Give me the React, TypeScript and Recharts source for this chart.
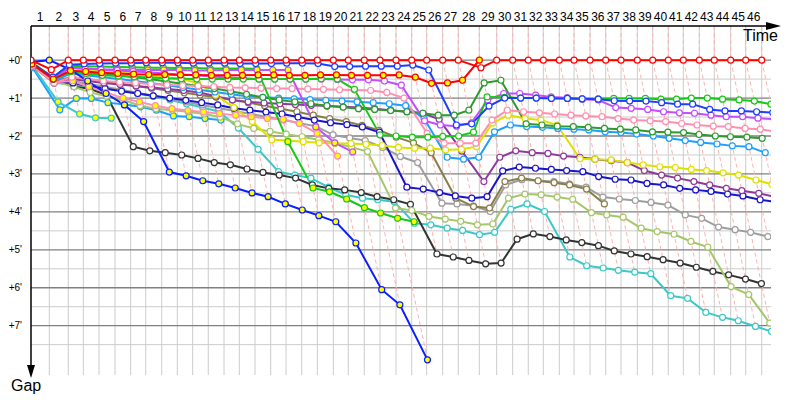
import React from 'react';
import { LineChart, Line, XAxis, YAxis, ReferenceLine } from 'recharts';

// leader's elapsed time (minutes) at each crossing of the line
const lapTimes = [
  0, 2.29, 4.66, 6.54, 8.5, 10.5, 12.46, 14.34, 16.34, 18.29, 20.21,
  22.16, 24.13, 26.04, 28.0, 29.96, 31.88, 33.84, 35.79, 37.79, 39.66,
  41.66, 43.63, 45.63, 47.59, 49.46, 51.46, 53.41, 56.04, 58.21, 60.21,
  62.16, 64.04, 66.04, 67.88, 69.88, 71.84, 73.75, 75.79, 77.71, 79.66,
  81.54, 83.54, 85.41, 87.46, 89.34, 91.34,
];

const lapNumbers = [
  1, 2, 3, 4, 5, 6, 7, 8, 9, 10, 11, 12, 13, 14, 15, 16, 17, 18, 19, 20, 21, 22, 23,
  24, 25, 26, 27, 28, 29, 30, 31, 32, 33, 34, 35, 36, 37, 38, 39, 40, 41, 42, 43, 44, 45, 46,
];

const gapTicks = [0, 1, 2, 3, 4, 5, 6, 7];
const gapGrid = [0, 0.5, 1, 1.5, 2, 2.5, 3, 3.5, 4, 4.5, 5, 5.5, 6, 6.5, 7, 7.5];

// gap to the leader (minutes) at each crossing, one list per car
const redCar = [
  0, 0.25, 0, 0, 0, 0, 0, 0, 0, 0, 0,
  0, 0, 0, 0, 0, 0, 0, 0, 0, 0,
  0, 0, 0, 0, 0, 0, 0, 0.2, 0, 0,
  0, 0, 0, 0, 0, 0, 0, 0, 0, 0,
  0, 0, 0, 0, 0, 0,
];
const redYellowCar = [
  0.1, 0.5, 0.28, 0.3, 0.33, 0.35, 0.37, 0.38, 0.38, 0.39, 0.39,
  0.4, 0.4, 0.4, 0.39, 0.39, 0.4, 0.4, 0.39, 0.39, 0.4,
  0.4, 0.4, 0.39, 0.45, 0.61, 0.6, 0.53, 0,
];
const blueCar = [
  0.08, 0.45, 0.12, 0.1, 0.09, 0.08, 0.08, 0.07, 0.07, 0.07, 0.08,
  0.08, 0.08, 0.09, 0.09, 0.09, 0.08, 0.08, 0.09, 0.17, 0.17,
  0.16, 0.16, 0.16, 0.13, 0.26, 1.71, 1.68, 1.21, 1.0, 1.0,
  1.0, 1.01, 1.01, 1.02, 1.03, 1.07, 1.08, 1.08, 1.12, 1.16,
  1.16, 1.3, 1.34, 1.34, 1.36, 1.38,
];
const greenCar = [
  0.1, 0.5, 0.3, 0.35, 0.4, 0.42, 0.44, 0.46, 0.48, 0.49, 0.5,
  0.5, 0.5, 0.5, 0.5, 0.5, 0.5, 0.5, 0.49, 0.5, 0.77,
  1.97, 2.0, 2.03, 2.03, 2.01, 2.0, 1.9, 0.97, 0.98, 1.0,
  1.0, 1.0, 1.01, 1.02, 1.02, 1.01, 1.01, 1.01, 1.03, 1.03,
  1.0, 1.0, 1.03, 1.05, 1.08, 1.16,
];
const violetCar = [
  0.1, 0.5, 0.2, 0.22, 0.25, 0.27, 0.3, 0.32, 0.35, 0.38, 0.4,
  0.43, 0.46, 0.48, 0.5, 0.5, 0.5, 0.5, 0.5, 0.51, 0.52,
  0.52, 0.55, 0.66, 1.6, 1.71, 1.74, 1.65, 1.05, 0.88, 0.88,
  0.92, 0.97, 0.99, 1.03, 1.05, 1.25, 1.27, 1.3, 1.36, 1.39,
  1.4, 1.45, 1.49, 1.49, 1.53, 1.56,
];
const pinkCar = [
  0.15, 0.6, 0.45, 0.5, 0.55, 0.58, 0.6, 0.63, 0.65, 0.67, 0.68,
  0.7, 0.72, 0.73, 0.74, 0.75, 0.75, 0.76, 0.77, 0.78, 0.79,
  0.8, 0.85, 1.0, 1.93, 2.19, 2.19, 2.19, 1.58, 1.32, 1.36,
  1.39, 1.42, 1.45, 1.47, 1.49, 1.54, 1.58, 1.6, 1.62, 1.67,
  1.71, 1.74, 1.75, 1.8, 1.82, 1.89,
];
const forestCar = [
  0.1, 0.5, 0.3, 0.33, 0.36, 0.4, 0.45, 0.5, 0.56, 0.62, 0.68,
  0.75, 0.82, 0.9, 0.98, 1.05, 1.1, 1.15, 1.2, 1.24, 1.28,
  1.3, 1.33, 1.36, 1.4, 1.45, 1.45, 1.32, 0.6, 0.53, 1.68,
  1.71, 1.74, 1.75, 1.77, 1.8, 1.82, 1.84, 1.89, 1.9, 1.91,
  1.96, 2.0, 2.02, 2.03, 2.06,
];
const skyCar = [
  0.12, 0.55, 0.35, 0.4, 0.45, 0.5, 0.55, 0.6, 0.66, 0.72, 0.78,
  0.84, 0.9, 0.95, 0.98, 1.0, 1.02, 1.04, 1.06, 1.08, 1.1,
  1.12, 1.15, 1.2, 1.54, 2.56, 2.61, 2.56, 1.89, 1.71, 1.75,
  1.77, 1.8, 1.82, 1.84, 1.89, 1.91, 1.95, 2.0, 2.06, 2.12,
  2.17, 2.21, 2.26, 2.28, 2.44,
];
const yellowCar = [
  0.1, 0.5, 0.2, 0.24, 0.28, 0.32, 0.36, 0.4, 0.45, 0.5, 0.6,
  0.92, 1.25, 1.62, 2.1, 2.12, 2.15, 2.18, 2.2, 2.2, 2.22,
  2.25, 2.3, 2.32, 2.32, 2.37, 2.35, 2.28, 1.66, 1.45, 1.54,
  1.58, 1.71, 2.6, 2.61, 2.63, 2.7, 2.76, 2.81, 2.83, 2.88,
  2.91, 2.97, 3.03, 3.16, 3.27,
];
const purpleCar = [
  0.15, 0.6, 0.5, 0.55, 0.6, 0.64, 0.68, 0.72, 0.76, 0.8, 0.85,
  0.95, 1.05, 1.1, 1.13, 1.15, 1.17, 1.19, 1.21, 1.23, 1.25,
  1.28, 1.32, 1.36, 1.4, 1.56, 2.4, 3.2, 2.56, 2.39, 2.44,
  2.46, 2.53, 2.56, 2.61, 2.65, 2.7, 2.91, 3.03, 3.11, 3.2,
  3.29, 3.38, 3.44, 3.51, 3.6,
];
const navyCar = [
  0.12, 0.55, 0.6, 0.68, 0.75, 0.82, 0.88, 0.94, 1.0, 1.06, 1.12,
  1.18, 1.27, 1.32, 1.37, 1.42, 1.5, 1.58, 1.65, 1.7, 1.76,
  1.9, 3.35, 3.4, 3.49, 3.58, 3.64, 3.6, 2.92, 2.82, 2.85,
  2.88, 2.91, 2.94, 3.07, 3.14, 3.16, 3.25, 3.29, 3.38, 3.42,
  3.46, 3.53, 3.58, 3.68, 3.74,
];
const oliveCar = [
  0.13, 0.55, 0.45, 0.5, 0.56, 0.62, 0.68, 0.74, 0.8, 0.86, 0.92,
  0.98, 1.05, 1.12, 1.2, 1.28, 1.36, 1.45, 1.54, 1.62, 1.72,
  1.85, 2.03, 2.18, 2.44, 3.64, 3.86, 3.9, 3.2, 3.11, 3.18,
  3.23, 3.29, 3.4, 3.79,
];
const greyCar = [
  0.15, 0.6, 0.55, 0.62, 0.7, 0.78, 0.86, 0.94, 1.02, 1.1, 1.18,
  1.26, 1.34, 1.42, 1.5, 1.58, 1.66, 1.74, 1.97, 2.05, 2.12,
  2.3, 2.54, 2.7, 3.77, 3.79, 3.84, 3.99, 3.29, 3.15, 3.18,
  3.2, 3.26, 3.35, 3.61, 3.66, 3.7, 3.75, 3.82, 4.08, 4.17,
  4.4, 4.47, 4.54, 4.65,
];
const limeCar = [
  0.12, 0.55, 0.7, 0.85, 0.95, 1.05, 1.2, 1.28, 1.32, 1.36, 1.42,
  1.5, 1.68, 1.8, 1.88, 1.95, 2.02, 2.1, 2.18, 2.3, 2.41,
  3.9, 3.96, 4.12, 4.19, 4.25, 4.34, 4.32, 3.64, 3.53, 3.55,
  3.61, 3.67, 4.02, 4.08, 4.14, 4.43, 4.52, 4.59, 4.78, 4.93,
  5.97, 6.18, 6.93,
];
const charcoalCar = [
  0.15, 0.5, 0.7, 0.75, 0.92, 2.28, 2.39, 2.44, 2.5, 2.59, 2.7,
  2.76, 2.87, 2.96, 3.03, 3.11, 3.29, 3.38, 3.42, 3.49, 3.6,
  3.68, 3.8, 5.11, 5.19, 5.28, 5.37, 5.35, 4.72, 4.58, 4.65,
  4.74, 4.81, 4.89, 5.03, 5.11, 5.18, 5.26, 5.35, 5.46, 5.57,
  5.66, 5.77, 5.89,
];
const cyanCar = [
  0.15, 0.6, 0.65, 0.7, 0.75, 0.8, 0.88, 0.95, 1.05, 1.15, 1.25,
  1.36, 1.79, 2.35, 2.94, 3.03, 3.11, 3.35, 3.55, 3.64, 3.68,
  3.73, 4.3, 4.34, 4.43, 4.49, 4.6, 4.54, 3.93, 3.79, 3.99,
  5.19, 5.42, 5.48, 5.54, 5.59, 5.63, 6.21, 6.28, 6.65, 6.78,
  6.87, 7.02, 7.15,
];
const blueYellowCar = [
  0.05, 0, 0.25, 0.55, 0.88, 1.18, 1.62, 2.95, 3.05, 3.18, 3.26,
  3.37, 3.5, 3.6, 3.79, 3.95, 4.1, 4.26, 4.82, 6.05, 6.45, 7.9,
];
const violetYellowCar = [
  0.08, 0.5, 0.2, 0.22, 0.24, 0.25, 0.26, 0.26, 0.26, 0.26, 0.27,
  0.27, 0.26, 0.26, 0.26, 0.26, 0.26, 1.76, 2.18, 2.42,
];
const pinkYellowCar = [
  0.13, 0.58, 0.55, 0.7, 0.85, 1.0, 1.1, 1.2, 1.28, 1.33, 1.37,
  1.41, 1.45, 1.49, 1.54, 1.56, 1.67, 1.93, 2.53,
];
const greenYellowCar = [
  0.05, 0.45, 0.15, 0.16, 0.17, 0.18, 0.19, 0.2, 0.2, 0.21, 0.21,
  0.22, 0.22, 0.22, 0.23, 2.15, 3.37, 3.47, 3.66, 3.89, 4.03, 4.17, 4.26,
];
const cyanYellowCar = [0.15, 1.1, 1.42, 1.52, 1.53];
const skyYellowCar = [0.2, 1.31, 1.01, 1.01, 1.12, 1.17, 1.23, 1.32, 1.47, 1.49, 1.54, 1.58];

const YELLOW = '#ffff00';
const WHITE = '#ffffff';

// drawn back to front
const cars = [
  { id: 'skyYellow', color: '#1e9fff', marker: YELLOW, gaps: skyYellowCar },
  { id: 'cyanYellow', color: '#3cc8c8', marker: YELLOW, gaps: cyanYellowCar },
  { id: 'cyan', color: '#3cc8c8', marker: WHITE, gaps: cyanCar },
  { id: 'charcoal', color: '#333333', marker: WHITE, gaps: charcoalCar },
  { id: 'lime', color: '#a6c66a', marker: WHITE, gaps: limeCar },
  { id: 'grey', color: '#9e9e9e', marker: WHITE, gaps: greyCar },
  { id: 'olive', color: '#8a7d46', marker: WHITE, gaps: oliveCar },
  { id: 'navy', color: '#1a14c8', marker: WHITE, gaps: navyCar },
  { id: 'purple', color: '#8e3a9a', marker: WHITE, gaps: purpleCar },
  { id: 'yellow', color: '#e0e000', marker: WHITE, gaps: yellowCar },
  { id: 'sky', color: '#1e9fff', marker: WHITE, gaps: skyCar },
  { id: 'forest', color: '#2e9a2e', marker: WHITE, gaps: forestCar },
  { id: 'pinkYellow', color: '#ff8fb0', marker: YELLOW, gaps: pinkYellowCar },
  { id: 'pink', color: '#ff8fb0', marker: WHITE, gaps: pinkCar },
  { id: 'greenYellow', color: '#18c818', marker: YELLOW, gaps: greenYellowCar },
  { id: 'violetYellow', color: '#c44dff', marker: YELLOW, gaps: violetYellowCar },
  { id: 'violet', color: '#c44dff', marker: WHITE, gaps: violetCar },
  { id: 'green', color: '#18c818', marker: WHITE, gaps: greenCar },
  { id: 'blueYellow', color: '#0a1eff', marker: YELLOW, gaps: blueYellowCar },
  { id: 'blue', color: '#1f3dff', marker: WHITE, gaps: blueCar },
  { id: 'redYellow', color: '#ff0000', marker: YELLOW, gaps: redYellowCar },
  { id: 'red', color: '#ff0000', marker: WHITE, gaps: redCar },
];

const GAP_TOP = -0.9;
const GAP_BOTTOM = 8.3;
const TIME_END = 92.5;

// a car crosses the line at the leader's time plus its gap
const carSeries = cars.map((c) => ({
  ...c,
  points: c.gaps.map((g, i) => ({ x: lapTimes[i] + g, g })),
}));

// dashed line joining every car's crossing of the same lap
const lapLines = lapTimes.map((t, i) => {
  const gs = cars.filter((c) => c.gaps.length > i).map((c) => c.gaps[i]).sort((a, b) => a - b);
  return [{ x: t, g: GAP_TOP }, ...gs.map((g) => ({ x: t + g, g }))];
});

const labelTicks = lapNumbers.map((n) => (lapTimes[n - 1] + lapTimes[n]) / 2);

const FONT = '"Liberation Sans", Arial, sans-serif';

const LapTick = (props: any) => {
  const { x, y, payload } = props;
  const i = labelTicks.findIndex((v) => Math.abs(v - payload.value) < 1e-6);
  return (
    <text x={x} y={y} textAnchor="middle" fontSize={12} fontFamily={FONT} fill="#000">
      {lapNumbers[i]}
    </text>
  );
};

const GapTick = (props: any) => {
  const { x, y, payload } = props;
  return (
    <text x={x} y={y + 3.5} textAnchor="end" fontSize={10} fontFamily={FONT} fill="#000">
      {`+${payload.value}'`}
    </text>
  );
};

export default function App() {
  return (
    <div style={{ position: 'absolute', left: 0, top: 0, width: 800, height: 400, background: '#fff' }}>
      <LineChart width={800} height={400} margin={{ top: 0, right: 29, bottom: 25, left: 0 }}>
        <XAxis
          type="number"
          dataKey="x"
          orientation="top"
          domain={[0, TIME_END]}
          allowDataOverflow
          ticks={labelTicks}
          interval={0}
          height={26}
          tickSize={0}
          tickMargin={5}
          tickLine={false}
          tick={<LapTick />}
          axisLine={{ stroke: '#000', strokeWidth: 1.5 }}
        />
        <YAxis
          type="number"
          dataKey="g"
          reversed
          domain={[GAP_TOP, GAP_BOTTOM]}
          allowDataOverflow
          ticks={gapTicks}
          interval={0}
          width={31}
          tickSize={0}
          tickMargin={9}
          tickLine={false}
          tick={<GapTick />}
          axisLine={{ stroke: '#000', strokeWidth: 1.5 }}
        />
        {lapTimes.slice(1).map((t) => (
          <ReferenceLine key={`v${t}`} x={t} stroke="#cccccc" strokeWidth={1} />
        ))}
        {gapGrid.map((g) => (
          <ReferenceLine
            key={`h${g}`}
            y={g}
            stroke={Number.isInteger(g) ? '#808080' : '#cccccc'}
            strokeWidth={Number.isInteger(g) ? 1.3 : 1}
          />
        ))}
        {lapLines.map((pts, i) => (
          <Line
            key={`lap${i}`}
            data={pts}
            dataKey="g"
            stroke="#ffb0b0"
            strokeWidth={1}
            strokeDasharray="4 3"
            dot={false}
            activeDot={false}
            isAnimationActive={false}
          />
        ))}
        {carSeries.map((c) => (
          <Line
            key={c.id}
            name={c.id}
            data={c.points}
            dataKey="g"
            stroke={c.color}
            strokeWidth={2}
            dot={{ r: 3, fill: c.marker, stroke: c.color, strokeWidth: 1.2 }}
            activeDot={false}
            isAnimationActive={false}
          />
        ))}
      </LineChart>
      <svg
        width={800}
        height={400}
        style={{ position: 'absolute', left: 0, top: 0, pointerEvents: 'none' }}
      >
        <line x1={770} y1={26} x2={772} y2={26} stroke="#000" strokeWidth={1.5} />
        <polygon points="766,22 781,26 766,30" fill="#000" />
        <polygon points="27,365 31,378 35,365" fill="#000" />
        <text x={743} y={41} fontSize={16} fontFamily={FONT} fill="#000">Time</text>
        <text x={11} y={391} fontSize={16} fontFamily={FONT} fill="#000">Gap</text>
      </svg>
    </div>
  );
}
